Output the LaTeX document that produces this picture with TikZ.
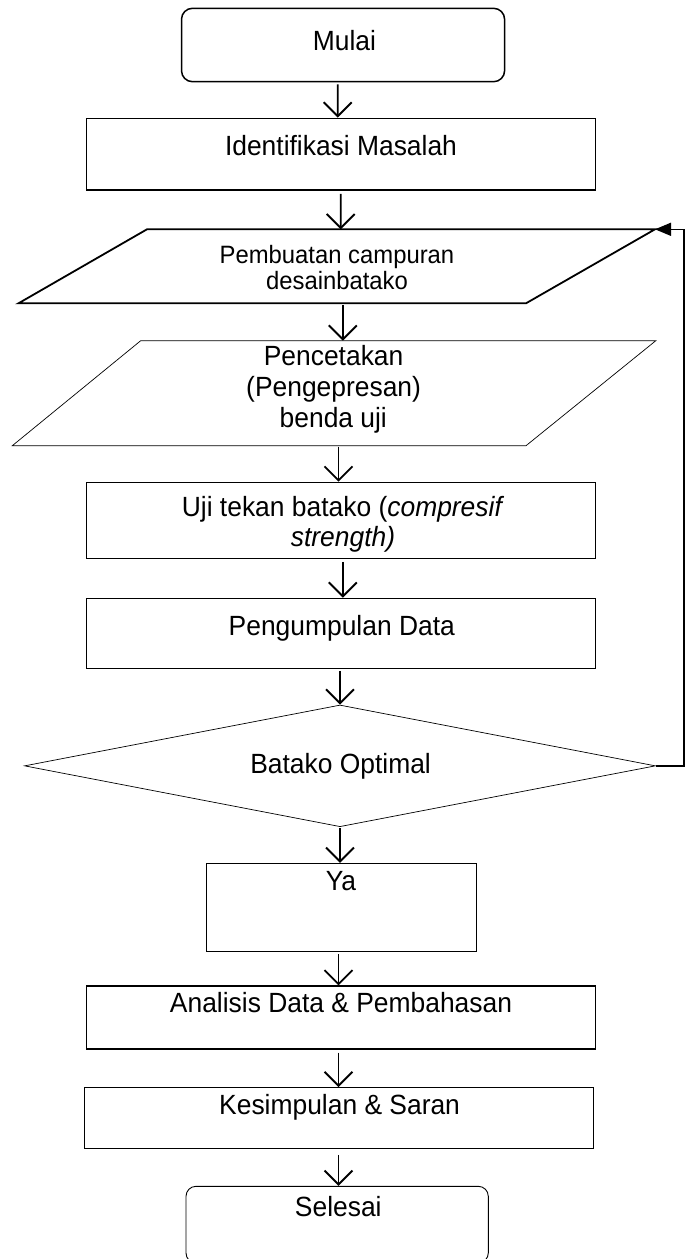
\documentclass[tikz,border=0pt]{standalone}
\usepackage{fontspec}
\setmainfont{Liberation Sans}[FakeStretch=0.95]
\usetikzlibrary{arrows.meta,shapes.geometric,calc}
\begin{document}
\begin{tikzpicture}[x=1pt,y=-1pt,
  box/.style={draw,rectangle,inner sep=0pt,line width=1pt},
  rbox/.style={box,rounded corners=11pt},
  txt/.style={anchor=base,inner sep=0pt,font=\fontsize{27.8}{33}\selectfont},
  stxt/.style={anchor=base,inner sep=0pt,font=\fontsize{25.1}{30}\selectfont},
  arr/.style={line width=1.9pt,-{Straight Barb[length=14pt,width=28pt]}},
  fbline/.style={line width=1.4pt,-{Triangle[length=16pt,width=13pt]}}]
\useasboundingbox (0,0) rectangle (687,1259);

% boxes
\node[rbox,line width=1.5pt,minimum width=323.1pt,minimum height=73.4pt] (mulai) at (343.05,45) {};
\node[box,line width=1.5pt,minimum width=509pt,minimum height=71.7pt] (ident) at (341.1,154.15) {};

% parallelogram 1
\coordinate (p1tl) at (147,229.3);
\coordinate (p1tr) at (655,229.3);
\coordinate (p1br) at (526,303.3);
\coordinate (p1bl) at (18.5,303.3);
\coordinate (p1n) at (340.7,229.3);
\coordinate (p1s) at (342.8,303.3);
\draw[line width=1.8pt,line join=miter] (p1tl) -- (p1tr) -- (p1br) -- (p1bl) -- cycle;

% parallelogram 2
\coordinate (p2tl) at (140.7,340.7);
\coordinate (p2tr) at (655.8,340.7);
\coordinate (p2br) at (526,445.7);
\coordinate (p2bl) at (12.3,445.7);
\coordinate (p2n) at (342.8,340.7);
\coordinate (p2s) at (338.5,445.7);
\draw[line width=0.7pt] (p2tl) -- (p2tr) -- (p2br) -- (p2bl) -- cycle;

\node[box,line width=1.2pt,minimum width=509pt,minimum height=76pt] (uji) at (341.1,520.3) {};
\node[box,line width=1.2pt,minimum width=509pt,minimum height=70pt] (peng) at (341.1,633.3) {};
\node[draw,diamond,inner sep=0pt,line width=0.7pt,minimum width=631pt,minimum height=121.7pt] (dec) at (340,765.85) {};
\node[box,line width=0.9pt,minimum width=269.4pt,minimum height=88.4pt] (ya) at (341.3,907.5) {};
\node[box,line width=1.1pt,minimum width=509pt,minimum height=63pt] (anal) at (341.1,1017.5) {};
\node[box,line width=1.1pt,minimum width=508.6pt,minimum height=60.6pt] (kes) at (339.1,1118) {};
\node[rbox,line width=0.9pt,rounded corners=10pt,minimum width=302.3pt,minimum height=76.7pt] (selesai) at (337.15,1224.65) {};

% texts
\node[txt] (mulaiT) at (344.5,50.5) {Mulai};
\node[txt] (identT) at (341,155) {Identifikasi Masalah};
\node[stxt] (p1a) at (337,263.5) {Pembuatan campuran};
\node[stxt] (p1b) at (337,289.5) {desainbatako};
\node[txt] (p2a) at (333.6,365) {Pencetakan};
\node[txt] (p2b) at (333.6,396) {(Pengepresan)};
\node[txt] (p2c) at (333.3,427) {benda uji};
\node[txt] (ujiA) at (343,516.5) {Uji tekan batako (\textit{compresif}};
\node[txt] (ujiB) at (343,546.5) {\textit{strength)}};
\node[txt] (pengT) at (341.8,635) {Pengumpulan Data};
\node[txt] (decT) at (340.6,773) {Batako Optimal};
\node[txt] (yaT) at (341,890) {Ya};
\node[txt] (analT) at (341,1012.5) {Analisis Data \& Pembahasan};
\node[txt] (kesT) at (339.6,1114) {Kesimpulan \& Saran};
\node[txt] (selT) at (338.3,1216) {Selesai};

% connectors
\draw[arr] ([xshift=-5.35pt,yshift=-2pt]mulai.south) -- ([xshift=-3.4pt]ident.north);
\draw[arr] ([xshift=-0.4pt,yshift=-3pt]ident.south) -- (p1n);
\draw[arr] ([yshift=-2pt]p1s) -- (p2n);
\draw[arr] ([yshift=-1pt]p2s) -- ([xshift=-2.6pt]uji.north);
\draw[arr] ([xshift=1.7pt,yshift=-3pt]uji.south) -- ([xshift=1.7pt]peng.north);
\draw[arr] ([xshift=-1.1pt,yshift=-2pt]peng.south) -- (dec.north);
\draw[arr] ([yshift=-1pt]dec.south) -- ([xshift=-1.3pt]ya.north);
\draw[arr] ([xshift=-2.8pt,yshift=-2pt]ya.south) -- ([xshift=-2.6pt]anal.north);
\draw[arr] ([xshift=-2.6pt,yshift=-3pt]anal.south) -- ([xshift=-0.6pt]kes.north);
\draw[arr] ([xshift=-0.6pt,yshift=-6pt]kes.south) -- ([xshift=1.35pt]selesai.north);

% feedback loop
\coordinate (fbc) at (684,229.3);
\draw[fbline] (dec.east) -| (fbc) -- (p1tr);
\end{tikzpicture}
\end{document}
